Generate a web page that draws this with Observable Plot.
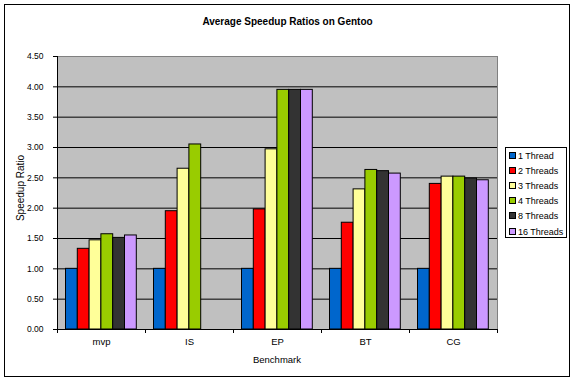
<!DOCTYPE html>
<html>
<head>
<meta charset="utf-8">
<script src="https://cdn.jsdelivr.net/npm/d3@7"></script>
<script src="https://cdn.jsdelivr.net/npm/@observablehq/plot@0.6"></script>
<style>
  html, body { margin: 0; padding: 0; background: #fff; }
  body { font-family: "Liberation Sans", Arial, sans-serif; }
  #wrap { position: relative; width: 575px; height: 381px; overflow: hidden; }
  #wrap svg { position: absolute; left: 0; top: 0; }
  .abs { position: absolute; }
  #border { left: 4px; top: 4px; width: 564px; height: 371px; border: 1px solid #000; }
  #title { left: 0; width: 575px; top: 16px; text-align: center; font-weight: bold; font-size: 10px; }
  #ylab { left: 20px; top: 188px; font-size: 10px; transform: translate(-50%, -50%) rotate(-90deg); white-space: nowrap; }
  #xlab { left: 277px; top: 359px; font-size: 9.5px; transform: translate(-50%, -50%); white-space: nowrap; }
  #legend { left: 505px; top: 147px; width: 60px; height: 89px; border: 1px solid #000; background: #fff; }
  .item { position: absolute; left: 3px; font-size: 9px; white-space: nowrap; line-height: 10px; }
  .sw { display: inline-block; width: 5px; height: 5px; border: 1px solid #000; margin-right: 2px; vertical-align: 0px; }
</style>
</head>
<body>
<div id="wrap"></div>
<script>
const benchmarks = ["mvp", "IS", "EP", "BT", "CG"];
const threads = ["1 Thread", "2 Threads", "3 Threads", "4 Threads", "8 Threads", "16 Threads"];
const t1  = [1.00, 1.00, 1.00, 1.00, 1.00];
const t2  = [1.33, 1.95, 1.98, 1.76, 2.40];
const t3  = [1.47, 2.65, 2.97, 2.31, 2.52];
const t4  = [1.57, 3.05, 3.95, 2.63, 2.52];
const t8  = [1.51, null, 3.95, 2.61, 2.49];
const t16 = [1.55, null, 3.95, 2.57, 2.46];
const colors = ["#0066cc", "#ff0000", "#ffff99", "#99cc00", "#333333", "#cc99ff"];
const yTicks = [0, 0.5, 1, 1.5, 2, 2.5, 3, 3.5, 4, 4.5];
const gridTicks = [0.5, 1, 1.5, 2, 2.5, 3, 3.5, 4];

const series = [t1, t2, t3, t4, t8, t16];

// group band 88px: outer gap 8.5px, bar width 11.8px
const band = 88, gap = 8.5, bw = 11.8;

const barMarks = series.map((vals, i) => {
  const rows = benchmarks.map((b, j) => ({benchmark: b, thread: threads[i], value: vals[j]}))
    .filter(d => d.value != null);
  return Plot.barY(rows, {
    x: "benchmark", y: "value",
    fill: colors[i], stroke: "#000", strokeWidth: 1,
    insetLeft: gap + bw * i,
    insetRight: band - gap - bw * (i + 1)
  });
});

const plot = Plot.plot({
  width: 575,
  height: 381,
  marginTop: 56,
  marginBottom: 52,
  marginLeft: 57,
  marginRight: 78,
  style: {fontFamily: "Liberation Sans, Arial, sans-serif", background: "transparent", color: "#000"},
  x: {domain: benchmarks, padding: 0},
  y: {domain: [0, 4.5]},
  marks: [
    Plot.frame({fill: "#c0c0c0", stroke: "#808080"}),
    Plot.gridY(gridTicks, {stroke: "#000", strokeOpacity: 1}),
    ...barMarks,
    Plot.ruleY([0], {stroke: "#000"}),
    Plot.ruleX([benchmarks[0]], {dx: -band / 2, stroke: "#000"}),
    Plot.axisY(yTicks, {tickFormat: d3.format(".2f"), tickSize: 4, tickPadding: 10, fontSize: 8.5, label: null, stroke: "#000"}),
    Plot.axisX({tickSize: 0, tickPadding: 9, fontSize: 9.5, label: null}),
    Plot.axisX({tickSize: 4, tickFormat: () => "", dx: -band / 2, label: null}),
    Plot.axisX([benchmarks[benchmarks.length - 1]], {tickSize: 4, tickFormat: () => "", dx: band / 2, label: null})
  ]
});

const wrap = document.getElementById("wrap");
wrap.appendChild(plot);

const addDiv = (id, text) => {
  const d = document.createElement("div");
  d.className = "abs"; d.id = id;
  if (text) d.textContent = text;
  wrap.appendChild(d);
  return d;
};
addDiv("border");
addDiv("title", "Average Speedup Ratios on Gentoo");
addDiv("ylab", "Speedup Ratio");
addDiv("xlab", "Benchmark");
const leg = addDiv("legend");
threads.forEach((t, i) => {
  const it = document.createElement("div");
  it.className = "item";
  it.style.top = (3 + i * 15.1) + "px";
  const sw = document.createElement("span");
  sw.className = "sw";
  sw.style.background = colors[i];
  it.appendChild(sw);
  it.appendChild(document.createTextNode(t));
  leg.appendChild(it);
});
</script>
</body>
</html>
